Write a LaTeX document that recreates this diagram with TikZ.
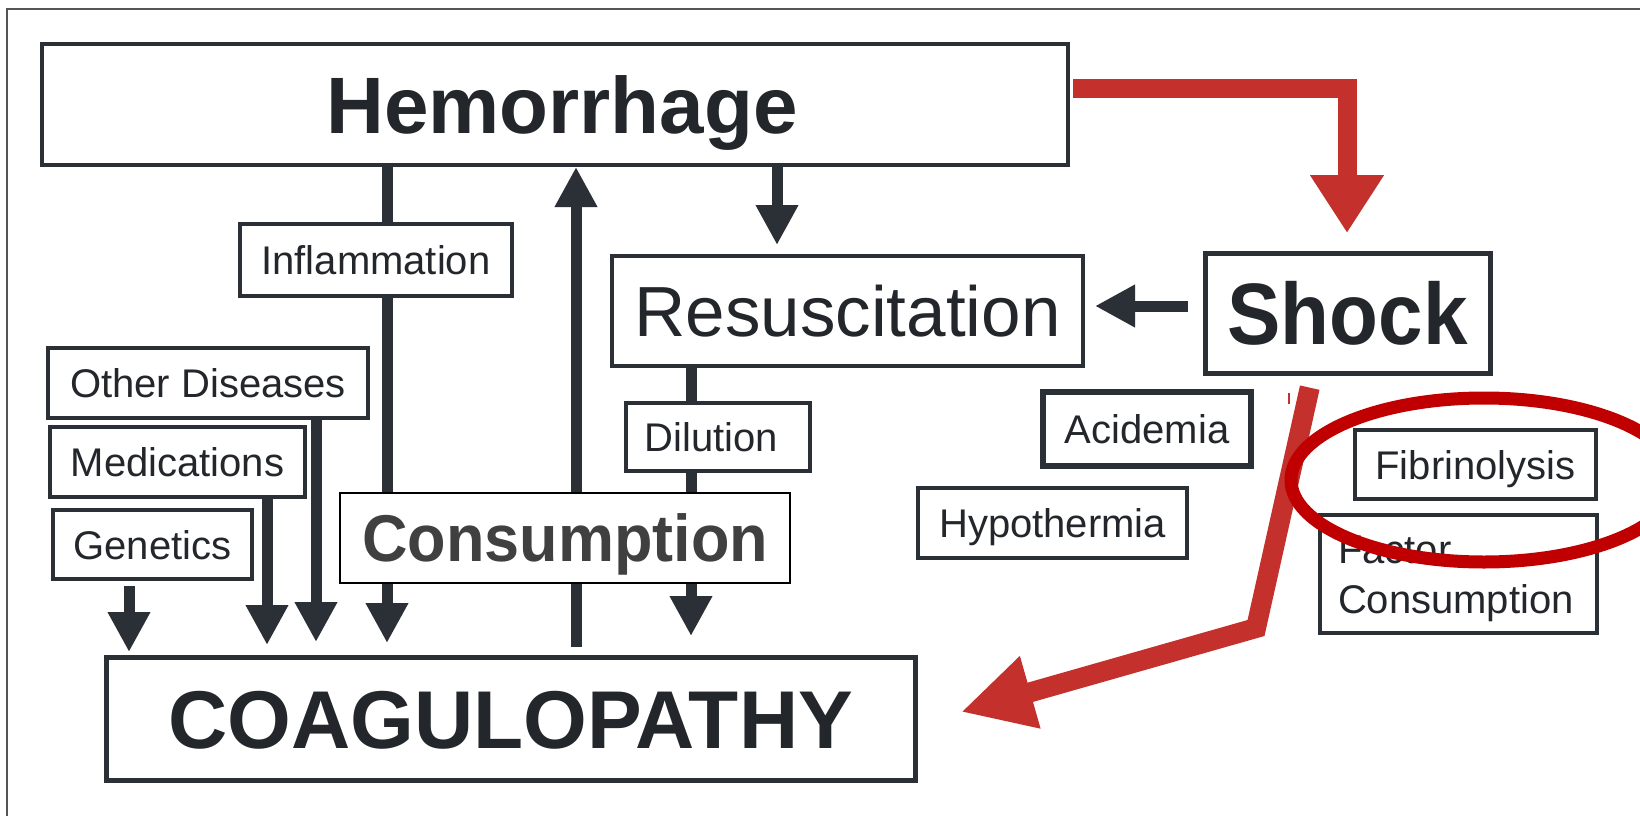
\documentclass[tikz,border=0pt]{standalone}
\usepackage{fontspec}
\usepackage{graphicx}
\setmainfont{Liberation Sans}
\usetikzlibrary{arrows.meta,calc}
\definecolor{dk}{HTML}{2B2F36}
\definecolor{tx}{HTML}{23262B}
\definecolor{redA}{HTML}{C4302B}
\definecolor{ellc}{HTML}{C00000}
\definecolor{framec}{HTML}{555555}
\definecolor{consc}{HTML}{404040}
\tikzset{
  box/.style={draw=dk, fill=white, line width=3.5pt, inner sep=0pt, outer sep=0pt, text=tx, align=center},
  smallbox/.style={box, font=\fontsize{40}{50}\selectfont, text height=29pt, text depth=0pt},
  bigbox/.style={box, font=\bfseries\fontsize{80}{96}\selectfont, text height=57pt, text depth=0pt},
  bar/.style={draw=dk, line width=11pt},
  arr/.style={draw=dk, line width=11pt, -{Triangle[length=40pt,width=40pt]}},
  redline/.style={draw=redA, line width=20pt, line join=miter},
}
\begin{document}
\begin{tikzpicture}[x=1pt,y=-1pt]
\useasboundingbox (0,0) rectangle (1640,816);
\fill[white] (0,0) rectangle (1640,816);
\draw[framec, line width=1.5pt] (1640,9) -- (7,9) -- (7,816);

% main boxes
\node[bigbox, line width=4.5pt, minimum width=1026pt, minimum height=121pt] (hem) at (555,104.5) {\hspace*{14pt}Hemorrhage};
\node[bigbox, line width=5pt, font=\bfseries\fontsize{82}{98}\selectfont, text height=59pt, minimum width=809pt, minimum height=123pt] (coag) at (510.5,718.5) {COAGULOPATHY};
\node[box, font=\fontsize{71}{85}\selectfont, text height=51pt, text depth=0pt, minimum width=471pt, minimum height=110pt] (resus) at (847.5,311) {Resuscitation};
\node[bigbox, line width=5pt, minimum width=285pt, minimum height=120pt, text height=62pt] (shock) at (1347.5,313) {\scalebox{1}[1.09]{Shock}};

% small boxes
\node[smallbox, minimum width=272pt, minimum height=72pt] (infl) at (376,260) {Inflammation};
\node[smallbox, minimum width=320pt, minimum height=70pt] (oth) at (208,383) {Other Diseases};
\node[smallbox, minimum width=255pt, minimum height=70pt] (med) at (177.5,462) {Medications};
\node[smallbox, minimum width=199pt, minimum height=69pt] (gen) at (152.5,544.5) {Genetics};
\node[smallbox, minimum width=184pt, minimum height=68pt] (dil) at (718,437) {\hspace*{-13pt}Dilution};
\node[smallbox, line width=6pt, minimum width=208pt, minimum height=74pt] (acid) at (1147,429) {Acidemia};
\node[smallbox, minimum width=269pt, minimum height=70pt] (hypo) at (1052.5,523) {Hypothermia};
\node[smallbox, minimum width=241pt, minimum height=69pt] (fib) at (1475.5,464.5) {Fibrinolysis};
\node[smallbox, align=left, text width=241pt, text depth=50pt, minimum width=277pt, minimum height=118pt] (fact) at (1458.5,574) {Factor\\Consumption};

% x / y guide coordinates
\coordinate (xinf) at (387,0);
\coordinate (xup) at (576,0);
\coordinate (xres) at (777,0);
\coordinate (xdil) at (691,0);
\coordinate (xoth) at (316,0);
\coordinate (xmed) at (267,0);
\coordinate (xgen) at (129,0);
\coordinate (yshk) at (0,306);
\coordinate (yred) at (1347,88);
\coordinate (xrs) at (1313,0);
\coordinate (rbend) at (1256,628);
\coordinate (rtip) at (961,712);

% dark connectors
\draw[bar] (hem.south -| xinf) -- (infl.north -| xinf);
\draw[arr, shorten >=14pt] (infl.south -| xinf) -- (coag.north -| xinf);
\draw[arr, shorten <=10pt, shorten >=2pt] (coag.north -| xup) -- (hem.south -| xup);
\draw[arr, shorten >=11pt] (hem.south -| xres) -- (resus.north -| xres);
\draw[bar] (resus.south -| xdil) -- (dil.north -| xdil);
\draw[arr, shorten >=21pt] (dil.south -| xdil) -- (coag.north -| xdil);
\draw[arr, shorten >=15pt] (oth.south -| xoth) -- (coag.north -| xoth);
\draw[arr, shorten >=12pt] (med.south -| xmed) -- (coag.north -| xmed);
\draw[arr, shorten <=7pt, shorten >=5pt] (gen.south -| xgen) -- (coag.north -| xgen);
\draw[arr, shorten <=17pt, shorten >=12pt] (shock.west |- yshk) -- (resus.east |- yshk);

% red connectors
\draw[redline, line width=19pt, -{Triangle[length=58pt,width=70pt]}, shorten <=5pt, shorten >=20pt]
  (hem.east |- yred) -- (yred) -- (yred |- shock.north);
\draw[redline, -{Triangle[length=72pt,width=70pt]}, shorten <=15pt]
  (shock.south -| xrs) -- (rbend) -- (rtip);
\draw[redA, line width=2pt] (1289,393) -- (1289,404);

% overlay label
\node[draw=black, fill=white, line width=2.5pt, inner sep=0pt, outer sep=0pt, text=consc,
      font=\bfseries\fontsize{63}{76}\selectfont, text height=46pt, text depth=0pt,
      minimum width=450pt, minimum height=90pt] (cons) at (565,538) {\scalebox{1}[1.05]{Consumption}};

% red ellipse
\draw[ellc, line width=13pt] (1484,480) ellipse [x radius=193, y radius=82];
\end{tikzpicture}
\end{document}
